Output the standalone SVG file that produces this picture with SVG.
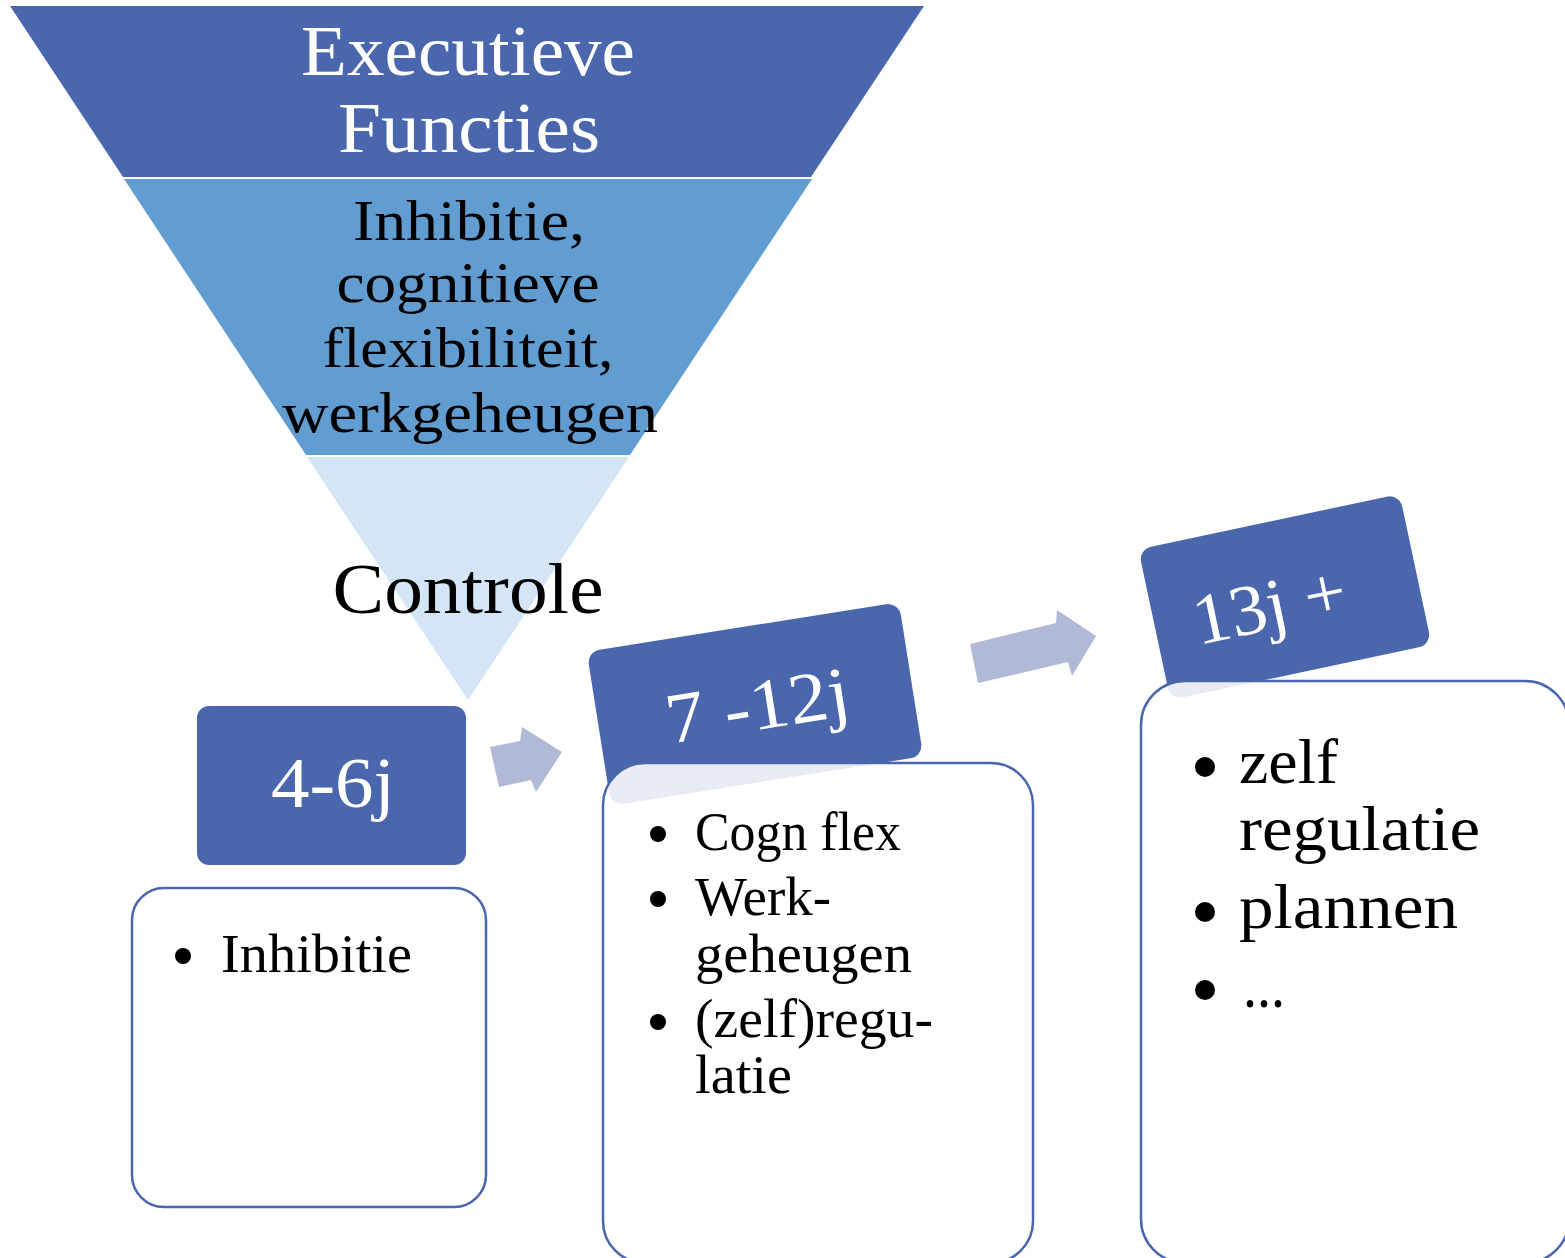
<svg xmlns="http://www.w3.org/2000/svg" width="1565" height="1258" viewBox="0 0 1565 1258">
  <defs>
    <style>
      text { font-family: "Liberation Serif", "Times New Roman", serif; }
      .white { fill: #ffffff; }
      .black { fill: #000000; }
      .mid { text-anchor: middle; }
      .tag { fill: #4A67AE; }
      .card { fill: #ffffff; fill-opacity: 0.88; stroke: #4A67AE; stroke-width: 2.5; }
      .arrow { fill: #B0B9D5; }
      .dot { fill: #000000; }
    </style>
  </defs>
  <rect width="1565" height="1258" fill="#ffffff"/>

  <!-- Funnel: three stacked bands -->
  <g id="funnel-top">
    <polygon points="10,6 924,6 811,177 123,177" fill="#4A67AE"/>
    <text class="white mid" font-size="72" x="468" y="75" textLength="334" lengthAdjust="spacingAndGlyphs">Executieve</text>
    <text class="white mid" font-size="72" x="469" y="152" textLength="262" lengthAdjust="spacingAndGlyphs">Functies</text>
  </g>
  <g id="funnel-middle">
    <polygon points="124,179 812,179 630,455 306,455" fill="#619DD0"/>
    <text class="black mid" font-size="58" x="469" y="240" textLength="232" lengthAdjust="spacingAndGlyphs">Inhibitie,</text>
    <text class="black mid" font-size="58" x="468" y="302" textLength="263" lengthAdjust="spacingAndGlyphs">cognitieve</text>
    <text class="black mid" font-size="58" x="468" y="367" textLength="291" lengthAdjust="spacingAndGlyphs">flexibiliteit,</text>
    <text class="black mid" font-size="58" x="470" y="432" textLength="376" lengthAdjust="spacingAndGlyphs">werkgeheugen</text>
  </g>
  <g id="funnel-bottom">
    <polygon points="307,457 629,457 468,700" fill="#D4E5F6"/>
    <text class="black mid" font-size="72" x="468" y="613" textLength="271" lengthAdjust="spacingAndGlyphs">Controle</text>
  </g>

  <!-- Arrows between age stages -->
  <g id="connectors">
    <polygon class="arrow" points="490,747 520,741 522,727 562,752 536,792 531,780 499,787"/>
    <polygon class="arrow" points="970,644 1056,623 1057,610 1096,636 1072,676 1068,662 978,683"/>
  </g>

  <!-- Stage 4-6j -->
  <g id="stage-4-6">
    <rect class="tag" x="197" y="706" width="269" height="159" rx="12"/>
    <text class="white mid" font-size="72" x="333" y="807" textLength="124" lengthAdjust="spacingAndGlyphs">4-6j</text>
    <rect class="card" x="132" y="888" width="354" height="319" rx="32"/>
    <circle class="dot" cx="183" cy="956" r="8"/>
    <text class="black" font-size="55" x="221" y="972" textLength="191" lengthAdjust="spacingAndGlyphs">Inhibitie</text>
  </g>

  <!-- Stage 7-12j -->
  <g id="stage-7-12">
    <g transform="rotate(-9 755 704)">
      <rect class="tag" x="597" y="626" width="316" height="156" rx="13"/>
      <text class="white mid" font-size="72" x="757" y="730" textLength="185" lengthAdjust="spacingAndGlyphs">7 -12j</text>
    </g>
    <rect class="card" x="603" y="763" width="430" height="500" rx="42"/>
    <circle class="dot" cx="658" cy="834" r="8"/>
    <circle class="dot" cx="658" cy="899" r="8"/>
    <circle class="dot" cx="658" cy="1022" r="8"/>
    <text class="black" font-size="55" x="695" y="850" textLength="206" lengthAdjust="spacingAndGlyphs">Cogn flex</text>
    <text class="black" font-size="55" x="695" y="915" textLength="136" lengthAdjust="spacingAndGlyphs">Werk-</text>
    <text class="black" font-size="55" x="695" y="972" textLength="217" lengthAdjust="spacingAndGlyphs">geheugen</text>
    <text class="black" font-size="55" x="695" y="1037" textLength="238" lengthAdjust="spacingAndGlyphs">(zelf)regu-</text>
    <text class="black" font-size="55" x="695" y="1093" textLength="97" lengthAdjust="spacingAndGlyphs">latie</text>
  </g>

  <!-- Stage 13j+ -->
  <g id="stage-13">
    <g transform="rotate(-12 1285 597)">
      <rect class="tag" x="1151.5" y="520" width="267" height="154" rx="13"/>
      <text class="white mid" font-size="72" x="1268" y="626" textLength="155" lengthAdjust="spacingAndGlyphs">13j +</text>
    </g>
    <rect class="card" x="1141" y="681" width="428" height="582" rx="44"/>
    <circle class="dot" cx="1205" cy="767" r="10"/>
    <circle class="dot" cx="1205" cy="912" r="10"/>
    <circle class="dot" cx="1205" cy="990" r="10"/>
    <text class="black" font-size="64" x="1239" y="783" textLength="99" lengthAdjust="spacingAndGlyphs">zelf</text>
    <text class="black" font-size="64" x="1239" y="850" textLength="241" lengthAdjust="spacingAndGlyphs">regulatie</text>
    <text class="black" font-size="64" x="1239" y="928" textLength="219" lengthAdjust="spacingAndGlyphs">plannen</text>
    <text class="black" font-size="64" x="1243" y="1007" textLength="42" lengthAdjust="spacingAndGlyphs">...</text>
  </g>
</svg>
